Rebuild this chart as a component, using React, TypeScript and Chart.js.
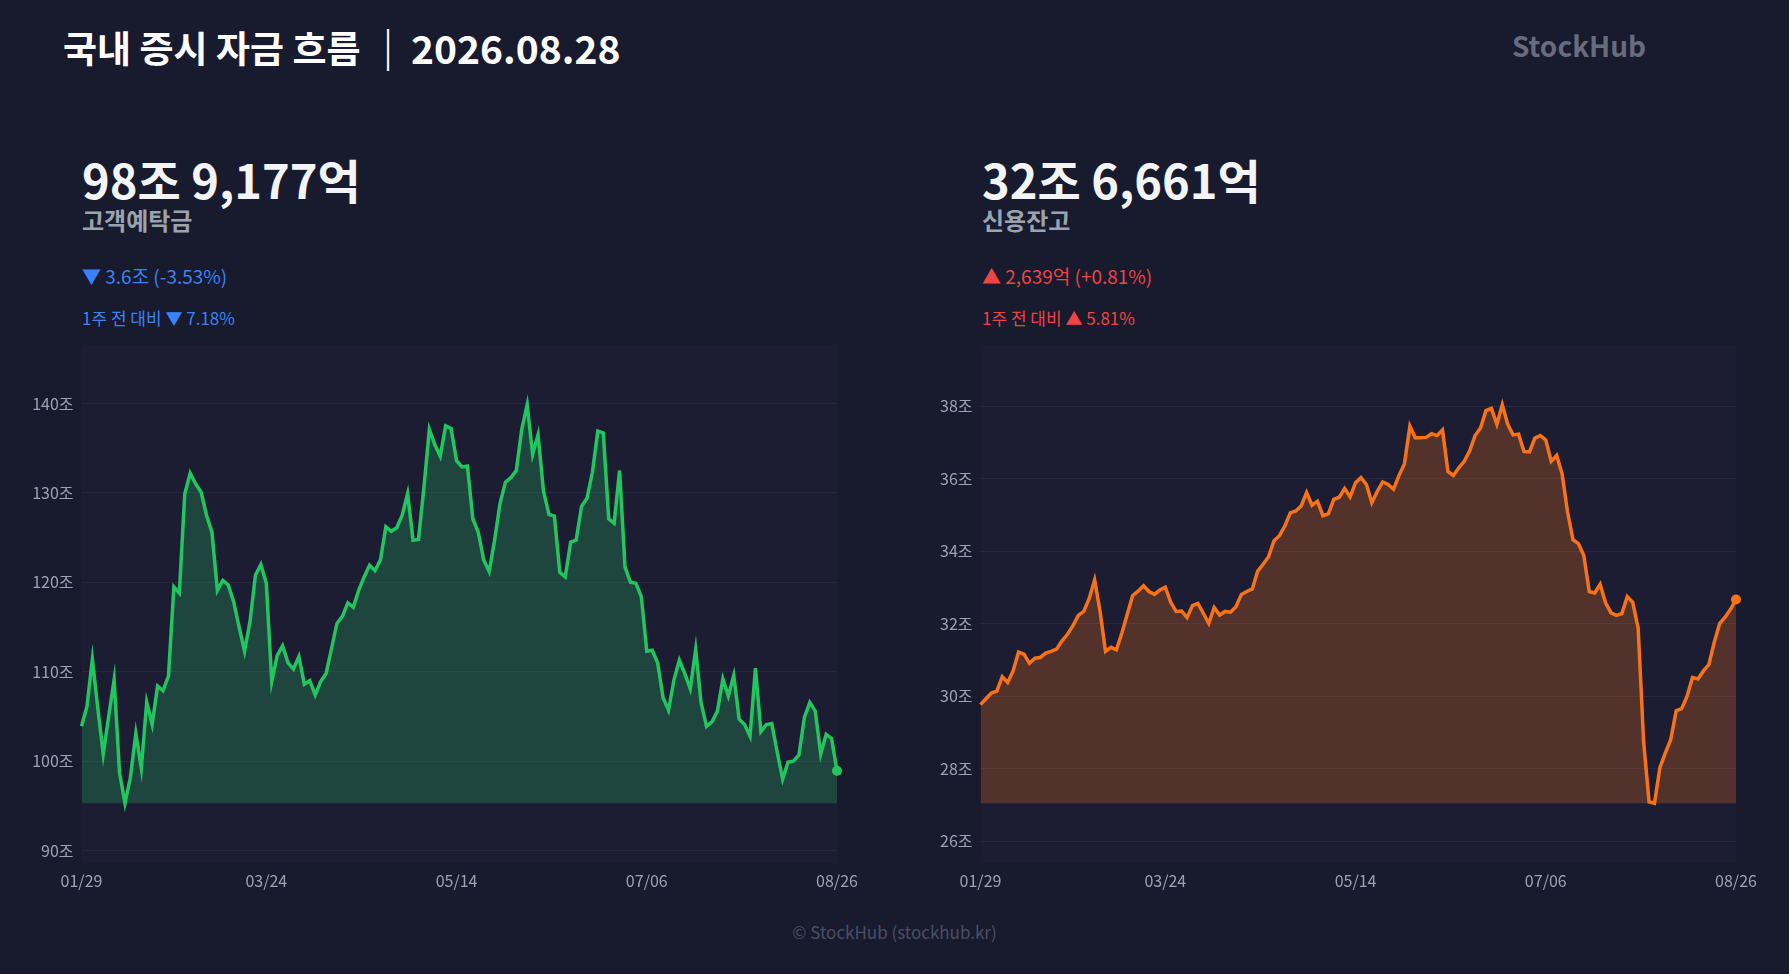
import { useEffect, useRef } from 'react'
import { Chart, registerables } from 'chart.js'

Chart.register(...registerables)

const FONT = '"Noto Sans CJK KR", "Noto Sans", sans-serif'
const PAGE_BG = '#181a2e'
const PLOT_BG = '#1c1d33'

// KRX closed days (weekdays) inside the range
const holidays = ['02-16', '02-17', '02-18', '03-02', '05-01', '05-05', '05-25', '06-03', '07-17', '08-17']

function tradingDays(start: string, end: string) {
  const out: string[] = []
  const d = new Date(start + 'T00:00:00Z')
  const last = new Date(end + 'T00:00:00Z')
  while (d <= last) {
    const wd = d.getUTCDay()
    const md = String(d.getUTCMonth() + 1).padStart(2, '0') + '-' + String(d.getUTCDate()).padStart(2, '0')
    if (wd !== 0 && wd !== 6 && !holidays.includes(md)) out.push(md.replace('-', '/'))
    d.setUTCDate(d.getUTCDate() + 1)
  }
  return out
}

const dates = tradingDays('2026-01-29', '2026-08-26')
const xTickLabels = ['01/29', '03/24', '05/14', '07/06', '08/26']

// 고객예탁금 (조원)
const depositValues = [
  103.9, 106.1, 111.4, 105.9, 100.8, 105.0, 109.1, 98.7, 95.3, 98.2,
  103.1, 99.2, 106.6, 104.1, 108.4, 107.9, 109.5, 119.5, 118.8, 129.9,
  132.2, 131.0, 130.1, 127.5, 125.6, 119.1, 120.2, 119.7, 117.8, 115.0,
  112.3, 115.6, 120.8, 122.0, 119.9, 108.9, 111.8, 112.9, 111.0, 110.3,
  111.7, 108.6, 109.0, 107.4, 108.9, 109.8, 112.6, 115.4, 116.2, 117.7,
  117.2, 119.1, 120.6, 121.9, 121.3, 122.5, 126.2, 125.7, 126.1, 127.5,
  129.9, 124.7, 124.8, 130.6, 137.1, 135.4, 134.1, 137.5, 137.2, 133.6,
  132.9, 133.0, 127.1, 125.6, 122.5, 121.2, 124.7, 128.8, 131.2, 131.7,
  132.5, 137.1, 139.85, 134.3, 136.5, 130.2, 127.6, 127.4, 121.1, 120.6,
  124.5, 124.7, 128.5, 129.4, 132.3, 136.9, 136.7, 127.1, 126.6, 132.5,
  121.7, 120.0, 119.9, 118.4, 112.3, 112.4, 111.0, 107.1, 105.7, 109.1,
  111.3, 109.8, 108.1, 112.5, 106.5, 103.9, 104.4, 105.6, 109.2, 107.3,
  109.6, 104.7, 104.1, 102.8, 110.4, 103.3, 104.1, 104.2, 101.0, 98.0,
  99.9, 100.0, 100.7, 104.9, 106.57, 105.6, 100.8, 103.0, 102.54, 98.92,
]

// 신용잔고 (조원)
const creditValues = [
  29.77, 29.93, 30.09, 30.14, 30.54, 30.38, 30.70, 31.22, 31.16, 30.91,
  31.05, 31.07, 31.19, 31.24, 31.30, 31.53, 31.71, 31.95, 32.23, 32.34,
  32.70, 33.21, 32.34, 31.24, 31.35, 31.28, 31.74, 32.26, 32.78, 32.90,
  33.05, 32.89, 32.81, 32.93, 33.01, 32.59, 32.34, 32.35, 32.17, 32.50,
  32.56, 32.29, 32.01, 32.45, 32.24, 32.34, 32.32, 32.47, 32.81, 32.89,
  32.96, 33.45, 33.64, 33.85, 34.29, 34.43, 34.70, 35.06, 35.11, 35.25,
  35.62, 35.27, 35.38, 34.98, 35.03, 35.43, 35.49, 35.73, 35.50, 35.89,
  36.03, 35.84, 35.34, 35.65, 35.91, 35.84, 35.71, 36.09, 36.41, 37.45,
  37.13, 37.13, 37.14, 37.24, 37.19, 37.35, 36.20, 36.09, 36.30, 36.48,
  36.77, 37.19, 37.40, 37.88, 37.94, 37.50, 38.04, 37.50, 37.21, 37.23,
  36.75, 36.74, 37.12, 37.19, 37.07, 36.48, 36.64, 36.14, 35.09, 34.32,
  34.21, 33.88, 32.89, 32.85, 33.09, 32.58, 32.30, 32.23, 32.28, 32.75,
  32.59, 31.88, 28.76, 27.09, 27.05, 28.03, 28.44, 28.81, 29.60, 29.66,
  30.00, 30.52, 30.48, 30.70, 30.87, 31.49, 32.01, 32.18, 32.40, 32.67,
]

const plotBg = {
  id: 'plotBg',
  beforeDraw(chart: Chart) {
    const { ctx, chartArea: a } = chart
    ctx.save()
    ctx.fillStyle = PLOT_BG
    ctx.fillRect(a.left, a.top, a.width, a.height)
    ctx.restore()
  },
}

interface ChartProps {
  values: number[]
  color: string
  fill: string
  step: number
  left: number
}

function AreaChart({ values, color, fill, step, left }: ChartProps) {
  const canvasRef = useRef<HTMLCanvasElement>(null)
  const chartRef = useRef<Chart | null>(null)

  useEffect(() => {
    if (!canvasRef.current) return
    chartRef.current?.destroy()

    const lo = Math.min(...values)
    const hi = Math.max(...values)
    const pad = (hi - lo) * 0.15
    const last = values.length - 1

    chartRef.current = new Chart(canvasRef.current, {
      type: 'line',
      data: {
        labels: dates,
        datasets: [{
          data: values,
          borderColor: color,
          backgroundColor: fill,
          borderWidth: 3.5,
          tension: 0,
          fill: { value: lo },
          pointRadius: (ctx: any) => (ctx.dataIndex === last ? 5 : 0),
          pointBackgroundColor: color,
          pointBorderWidth: 0,
        }],
      },
      options: {
        animation: false,
        responsive: true,
        maintainAspectRatio: false,
        layout: { padding: { top: 4, right: 23, bottom: 0, left: 0 } },
        plugins: { legend: { display: false }, tooltip: { enabled: false } },
        scales: {
          x: {
            grid: { display: false, drawTicks: false },
            border: { display: false },
            ticks: {
              autoSkip: false,
              maxRotation: 0,
              padding: 8,
              color: '#9ca3af',
              font: { family: FONT, size: 16 },
            },
            afterBuildTicks: (scale: any) => {
              scale.ticks = scale.ticks.filter((t: any) => xTickLabels.includes(dates[t.value]))
            },
            afterFit: (scale: any) => {
              scale.height = 37
              scale.paddingLeft = 0
              scale.paddingRight = 0
            },
          },
          y: {
            min: lo - pad,
            max: hi + pad,
            grid: { color: '#272942', drawTicks: false },
            border: { display: false },
            ticks: {
              stepSize: step,
              includeBounds: false,
              padding: 8,
              color: '#9ca3af',
              font: { family: FONT, size: 16 },
              callback: (v: any) => v + '조',
            },
            afterFit: (scale: any) => {
              scale.width = 81.5
              scale.paddingTop = 0
              scale.paddingBottom = 0
            },
          },
        },
      },
      plugins: [plotBg],
    })

    return () => { chartRef.current?.destroy() }
  }, [values, color, fill, step])

  return (
    <div style={{ position: 'absolute', left, top: 340, width: 860, height: 560 }}>
      <canvas ref={canvasRef} />
    </div>
  )
}

interface PanelProps {
  left: number
  amount: string
  name: string
  change: string
  week: string
  tone: string
}

function Header({ left, amount, name, change, week, tone }: PanelProps) {
  const base = { position: 'absolute' as const, left, lineHeight: 1, whiteSpace: 'nowrap' as const, fontFamily: FONT }
  return (
    <>
      <div style={{ ...base, top: 155, fontSize: 47, fontWeight: 700, color: '#f3f4f6' }}>{amount}</div>
      <div style={{ ...base, top: 208, fontSize: 24, fontWeight: 700, color: '#9ca3af' }}>{name}</div>
      <div style={{ ...base, top: 266, fontSize: 19, color: tone }}>{change}</div>
      <div style={{ ...base, top: 309, fontSize: 17, color: tone }}>{week}</div>
    </>
  )
}

export default function App() {
  const title = { position: 'absolute' as const, top: 29, fontWeight: 700, color: '#ffffff', lineHeight: 1, whiteSpace: 'nowrap' as const }
  return (
    <div style={{ position: 'fixed', inset: 0, background: PAGE_BG, overflow: 'hidden', fontFamily: FONT }}>
      <div style={{ ...title, left: 63, fontSize: 37 }}>국내 증시 자금 흐름</div>
      <div style={{ ...title, left: 367, top: 27, fontSize: 42 }}>｜</div>
      <div style={{ ...title, left: 411, top: 28, fontSize: 39 }}>2026.08.28</div>
      <div style={{ position: 'absolute', left: 1512, top: 31, fontSize: 28, fontWeight: 700, color: '#676c7e', lineHeight: 1 }}>
        StockHub
      </div>

      <Header left={82} amount="98조 9,177억" name="고객예탁금" change="▼ 3.6조 (-3.53%)" week="1주 전 대비 ▼ 7.18%" tone="#3b82f6" />
      <Header left={982} amount="32조 6,661억" name="신용잔고" change="▲ 2,639억 (+0.81%)" week="1주 전 대비 ▲ 5.81%" tone="#ef4444" />

      <AreaChart values={depositValues} color="#22c55e" fill="rgba(34,197,94,0.25)" step={10} left={0} />
      <AreaChart values={creditValues} color="#f97316" fill="rgba(249,115,22,0.25)" step={2} left={899} />

      <div style={{ position: 'absolute', left: 0, width: 1789, top: 923, textAlign: 'center', fontSize: 17, color: '#4b4f66', lineHeight: 1 }}>
        © StockHub (stockhub.kr)
      </div>
    </div>
  )
}
